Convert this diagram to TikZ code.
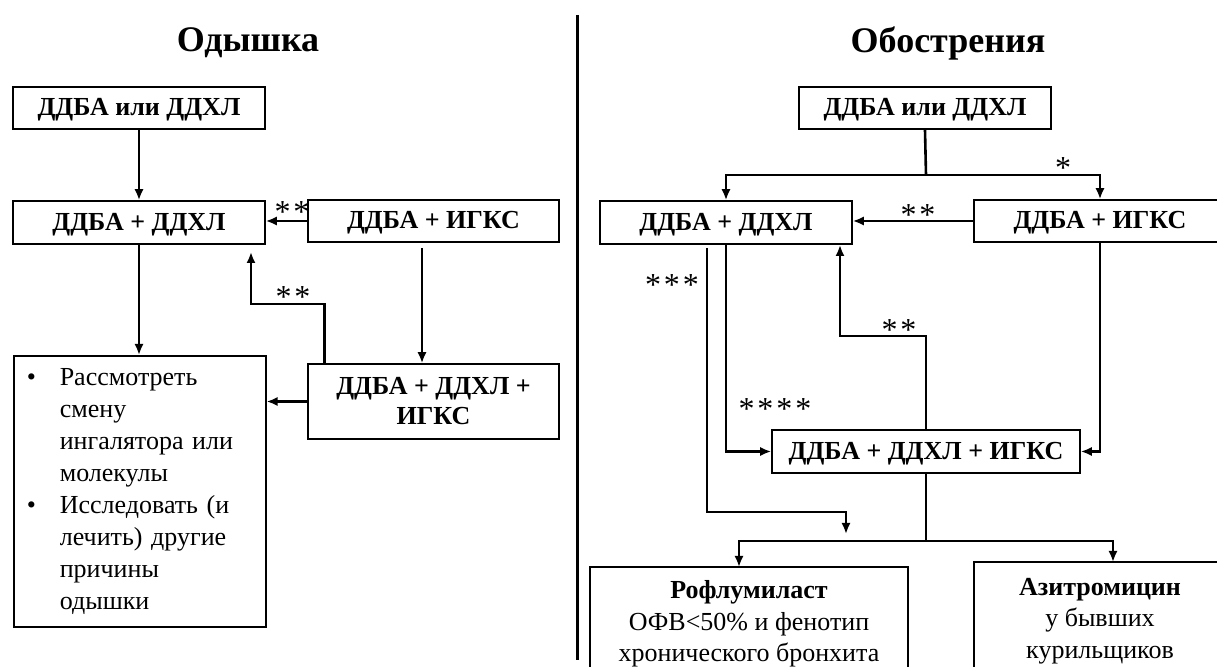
\documentclass[tikz,border=0pt]{standalone}
\usepackage{fontspec}
\setmainfont{Liberation Serif}
\usetikzlibrary{arrows.meta}
\usetikzlibrary{positioning}

\tikzset{
  box/.style={draw, line width=0.8pt, inner sep=2pt,
    font=\bfseries\fontsize{13}{15}\selectfont},
  oneline/.style={text height=8.6pt, text depth=1pt},
  multi/.style={align=center},
  conn/.style={->, >={Latex[length=5.5pt,width=4.6pt]}, line width=1.3pt},
  wire/.style={line width=1.3pt},
  stars/.style={font=\fontsize{16}{18}\selectfont, inner sep=0pt},
  title/.style={font=\bfseries\fontsize{18}{20}\selectfont},
}

\begin{document}
\begin{tikzpicture}[x=0.5pt, y=-0.5pt]
\useasboundingbox (0,0) rectangle (1217,667);
\clip (0,0) rectangle (1217,667);

% divider
\draw [line width=1.5pt] (577,15) -- (577,660);

% left half
\node [title] (tdysp) at (248,43) {Одышка};
\node [box, oneline, minimum width=126pt, minimum height=21pt] (ds1) at (139,108) {ДДБА или ДДХЛ};
\node [box, oneline, minimum width=126pt, minimum height=21.5pt] (ds2) at (139,222.5) {ДДБА + ДДХЛ};
\node [box, oneline, minimum width=125.5pt, minimum height=21pt] (ds3) at (433.5,221) {ДДБА + ИГКС};
\node [box, multi, minimum width=125.5pt, minimum height=37.5pt] (ds5) at (433.5,401.5) {ДДБА + ДДХЛ +\\ИГКС};
\node [draw, line width=0.8pt, anchor=north west, text width=113pt, inner xsep=6.5pt,
  minimum height=135.5pt, align=left, font=\fontsize{13}{16}\selectfont] (ds4) at (13,355)
  {\makebox[16.5pt][l]{\textbullet}Рассмотреть\\
   \hspace*{16.5pt}смену\\
   \hspace*{16.5pt}ингалятора или\\
   \hspace*{16.5pt}молекулы\\
   \makebox[16.5pt][l]{\textbullet}Исследовать (и\\
   \hspace*{16.5pt}лечить) другие\\
   \hspace*{16.5pt}причины\\
   \hspace*{16.5pt}одышки};

\coordinate (d3out) at (422,248);
\coordinate (d5up) at (324.5,363);
\coordinate (d2in) at (251,252);

\draw [conn] (ds1.south) -- (ds2.north);
\draw [conn] (ds3.west) -- (ds3.west -| ds2.east);
\draw [conn] (ds2.south) -- (ds4.north -| ds2.south);
\draw [conn] (d3out) -- (d3out |- ds5.north);
\draw [conn] (d5up) -- (324.5,304) -| (d2in);
\draw [conn] (ds5.west) -- (ds5.west -| ds4.east);
\node [stars] (sA) at (292,212) {*\kern1.5pt*};
\node [stars] (sB) at (293,297) {*\kern1.5pt*};

% right half
\node [title] (texac) at (948,43) {Обострения};
\node [box, oneline, minimum width=126pt, minimum height=21pt] (ob1) at (925,108) {ДДБА или ДДХЛ};
\node [box, oneline, minimum width=126pt, minimum height=21.5pt] (ob2) at (726,222.5) {ДДБА + ДДХЛ};
\node [box, oneline, minimum width=126pt, minimum height=21pt] (ob3) at (1100,221) {ДДБА + ИГКС};
\node [box, oneline, minimum width=154pt, minimum height=21.5pt] (ob4) at (926,451.5) {ДДБА + ДДХЛ + ИГКС};
\node [box, multi, minimum width=159pt, minimum height=57pt, font=\bfseries\fontsize{13}{15.75}\selectfont] (ob5) at (749,624)
  {Рофлумиласт\\\mdseries ОФВ<50\% и фенотип\\\mdseries хронического бронхита};
\node [box, multi, minimum width=126pt, minimum height=59pt, font=\bfseries\fontsize{13}{15.75}\selectfont] (ob6) at (1100,621)
  {Азитромицин\\\mdseries у бывших\\\mdseries курильщиков};

\coordinate (osplit) at (926,175);
\coordinate (o2out) at (707,248);
\coordinate (o5in) at (846,534);
\coordinate (o2in) at (840,245);
\coordinate (o4split) at (926,541);
\coordinate (o5top) at (739,567);
\coordinate (o6top) at (1113,562);

\draw [wire] (ob1.south) -- (osplit);
\draw [conn] (osplit) -| (ob2.north);
\draw [conn] (osplit) -| (ob3.north);
\draw [conn] (ob3.west) -- (ob3.west -| ob2.east);
\draw [conn] (o2out) -- (707,512) -| (o5in);
\draw [conn] (ob2.south) |- (ob4.west);
\draw [conn] (ob4.north) -- (926,336) -| (o2in);
\draw [conn] (ob3.south) |- (ob4.east);
\draw [wire] (ob4.south) -- (o4split);
\draw [conn] (o4split) -| (o5top);
\draw [conn] (o4split) -| (o6top);

\node [stars] (sC) at (1063,168) {*};
\node [stars] (sD) at (918,215) {*\kern1.5pt*};
\node [stars] (sE) at (672,285) {*\kern1.5pt*\kern1.5pt*};
\node [stars] (sF) at (899,330) {*\kern1.5pt*};
\node [stars] (sG) at (775,409) {*\kern1.5pt*\kern1.5pt*\kern1.5pt*};
\end{tikzpicture}
\end{document}
